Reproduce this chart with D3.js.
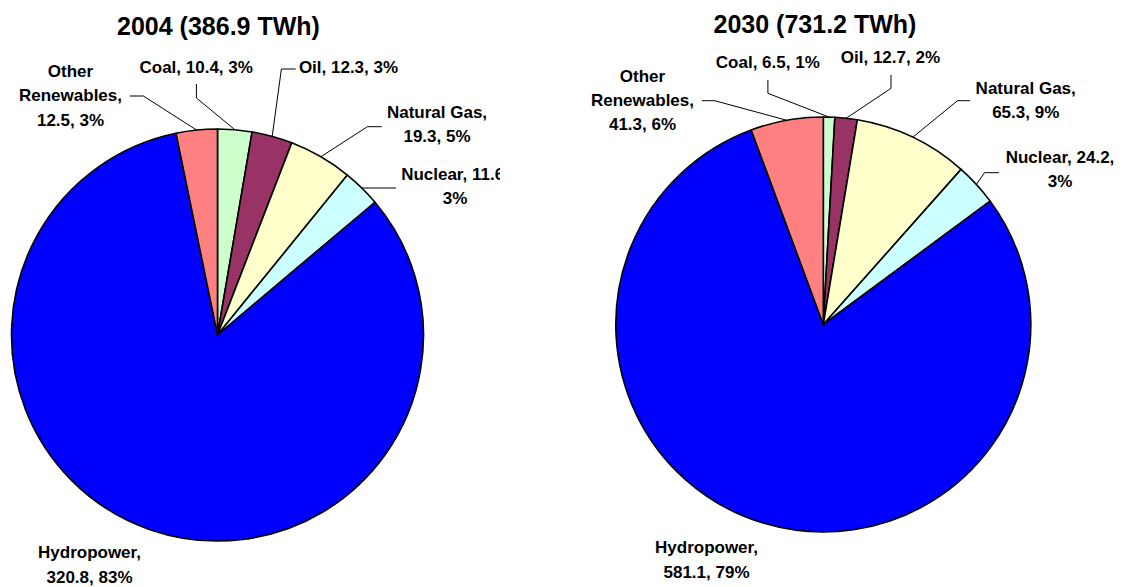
<!DOCTYPE html>
<html>
<head>
<meta charset="utf-8">
<script src="https://cdn.jsdelivr.net/npm/d3@7"></script>
<style>
  html, body { margin: 0; padding: 0; background: #fff; }
  svg { display: block; }
  text { font-family: "Liberation Sans", Arial, sans-serif; font-weight: bold; fill: #000; }
</style>
</head>
<body>
<svg id="chart" width="1125" height="587"></svg>
<script>
// ---------- data ----------
const categories = ["Coal", "Oil", "Natural Gas", "Nuclear", "Hydropower", "Other Renewables"];
const values2004 = [10.4, 12.3, 19.3, 11.6, 320.8, 12.5];
const values2030 = [6.5, 12.7, 65.3, 24.2, 581.1, 41.3];
const titles = ["2004 (386.9 TWh)", "2030 (731.2 TWh)"];
const colors = ["#CCFFCC", "#993366", "#FFFFCC", "#CCFFFF", "#0000FF", "#FF8080"];

// ---------- layout (positions only) ----------
// line-break style per category: one | twoA (name, / value, pct) | twoB (name, value, / pct) | three
const breakStyle = ["one", "one", "twoA", "twoB", "twoA", "three"];
const pies = [
  {
    values: values2004, title: titles[0],
    cx: 217.5, cy: 335, r: 206, titleX: 218.5, titleY: 35, clipW: 500,
    labels: [
      { x: 196.2, y: 72.7, lead: [[196.4, 84], [196.4, 98]] },
      { x: 348.5, y: 72.7, lead: [[295.7, 69], [281.4, 69]] },
      { x: 437, y: 118, lead: [[381.7, 126.7], [367.4, 126.7]] },
      { x: 455, y: 180, lead: [[396, 188], [380, 188]] },
      { x: 89.5, y: 558.3, lead: null },
      { x: 70.5, y: 77, lead: [[129.7, 96], [143.4, 96]] }
    ]
  },
  {
    values: values2030, title: titles[1],
    cx: 823.3, cy: 324.5, r: 207.5, titleX: 815, titleY: 33, clipW: null,
    labels: [
      { x: 767.8, y: 68.3, lead: [[767.9, 80], [767.9, 93.3]] },
      { x: 890.4, y: 63.3, lead: [[891, 75], [891, 88.3]] },
      { x: 1025.7, y: 94, lead: [[970, 100.7], [957.5, 100.7]] },
      { x: 1060, y: 163, lead: [[998.8, 172.7], [984.5, 172.7]] },
      { x: 706.5, y: 553.3, lead: null },
      { x: 642.5, y: 81.7, lead: [[702, 100.7], [714.7, 100.7]] }
    ]
  }
];

const svg = d3.select("#chart");
const color = d3.scaleOrdinal().domain(categories).range(colors);
const pieGen = d3.pie().sort(null).startAngle(0).endAngle(2 * Math.PI);
const lineH = 24.3;

function labelLines(cat, v, pct, style) {
  const vs = v.toFixed(1);
  if (style === "one") return [`${cat}, ${vs}, ${pct}%`];
  if (style === "twoA") return [`${cat},`, `${vs}, ${pct}%`];
  if (style === "twoB") return [`${cat}, ${vs},`, `${pct}%`];
  const w = cat.split(" ");
  return [w[0], `${w.slice(1).join(" ")},`, `${vs}, ${pct}%`];
}

pies.forEach((p, pi) => {
  const g = svg.append("g");
  if (p.clipW) {
    svg.append("clipPath").attr("id", "clip" + pi)
      .append("rect").attr("x", 0).attr("y", 0).attr("width", p.clipW).attr("height", 587);
    g.attr("clip-path", `url(#clip${pi})`);
  }
  const total = d3.sum(p.values);
  const data = categories.map((c, i) => ({ cat: c, value: p.values[i], i }));
  const arcs = pieGen.value(d => d.value)(data);
  const arc = d3.arc().innerRadius(0).outerRadius(p.r);
  const edge = d3.arc().innerRadius(p.r).outerRadius(p.r);

  g.append("text")
    .attr("x", p.titleX).attr("y", p.titleY)
    .attr("text-anchor", "middle")
    .style("font-size", "25px")
    .text(p.title);

  const pg = g.append("g").attr("transform", `translate(${p.cx},${p.cy})`);
  pg.selectAll("path").data(arcs).join("path")
    .attr("d", arc)
    .attr("fill", d => color(d.data.cat))
    .attr("stroke", "#000")
    .attr("stroke-width", 1.6)
    .attr("stroke-linejoin", "round");

  arcs.forEach(a => {
    const L = p.labels[a.data.i];
    if (L.lead) {
      const c = edge.centroid(a);
      const pts = [...L.lead, [p.cx + c[0], p.cy + c[1]]];
      g.append("path")
        .attr("d", d3.line()(pts))
        .attr("fill", "none")
        .attr("stroke", "#000")
        .attr("stroke-width", 1);
    }
    const pct = Math.round(a.data.value / total * 100);
    const lines = labelLines(a.data.cat, a.data.value, pct, breakStyle[a.data.i]);
    const t = g.append("text")
      .attr("text-anchor", "middle")
      .style("font-size", "17px");
    lines.forEach((ln, k) => {
      t.append("tspan").attr("x", L.x).attr("y", L.y + k * lineH).text(ln);
    });
  });
});
</script>
</body>
</html>
